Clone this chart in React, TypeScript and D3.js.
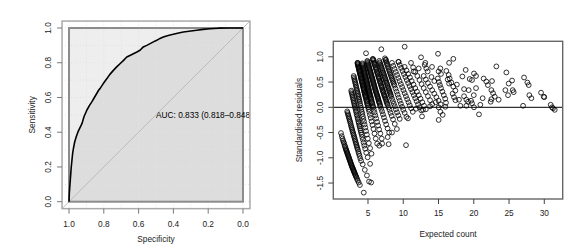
import * as d3 from "d3";

// ROC curve
const specificity = [
  1, 0.998, 0.994, 0.99, 0.987, 0.983, 0.979, 0.973, 0.967, 0.958, 0.948, 0.936, 0.925,
  0.914, 0.897, 0.883, 0.868, 0.85, 0.829, 0.822, 0.803, 0.783, 0.765, 0.745, 0.726,
  0.707, 0.688, 0.668, 0.65, 0.63, 0.61, 0.592, 0.573, 0.553, 0.534, 0.515, 0.496,
  0.477, 0.458, 0.43, 0.401, 0.37, 0.343, 0.3, 0.266, 0.23, 0.19, 0.14, 0.09, 0,
];
const sensitivity = [
  0, 0.05, 0.106, 0.16, 0.2, 0.24, 0.279, 0.315, 0.345, 0.375, 0.403, 0.428, 0.451,
  0.489, 0.528, 0.553, 0.576, 0.607, 0.643, 0.651, 0.68, 0.708, 0.733, 0.756, 0.776,
  0.794, 0.812, 0.833, 0.842, 0.852, 0.862, 0.872, 0.891, 0.9, 0.91, 0.92, 0.929,
  0.94, 0.948, 0.957, 0.964, 0.971, 0.977, 0.983, 0.987, 0.992, 0.996, 0.999, 1, 1,
];
const rocTicks = [1.0, 0.8, 0.6, 0.4, 0.2, 0.0];
const rocGrid = [0, 0.1, 0.2, 0.3, 0.4, 0.5, 0.6, 0.7, 0.8, 0.9, 1.0];
const aucLabel = "AUC: 0.833 (0.818\u20130.848)";

// residuals vs expected count, one array per band of observed count
const band0 = [
  [1.17, -0.51], [1.28, -0.57], [1.38, -0.62], [1.47, -0.66], [1.55, -0.69], [1.62, -0.72],
  [1.7, -0.76], [1.76, -0.78], [1.82, -0.81], [1.87, -0.83], [1.92, -0.85], [1.97, -0.87],
  [2.02, -0.89], [2.07, -0.91], [2.12, -0.93], [2.17, -0.95], [2.22, -0.97], [2.27, -0.99],
  [2.32, -1.01], [2.37, -1.03], [2.42, -1.05], [2.47, -1.07], [2.52, -1.09], [2.57, -1.11],
  [2.62, -1.13], [2.67, -1.15], [2.72, -1.17], [2.77, -1.19], [2.82, -1.2], [2.87, -1.22],
  [2.92, -1.24], [2.97, -1.26], [3.02, -1.27], [3.07, -1.29], [3.12, -1.31], [3.18, -1.33],
  [3.24, -1.35], [3.3, -1.37], [3.37, -1.39], [3.45, -1.42], [3.55, -1.45], [3.68, -1.49],
  [3.85, -1.54], [4.4, -1.69],
];
const band1 = [
  [2.05, -0.08], [2.11, -0.11], [2.17, -0.14], [2.23, -0.17], [2.29, -0.2], [2.35, -0.23],
  [2.41, -0.26], [2.47, -0.29], [2.53, -0.32], [2.59, -0.36], [2.65, -0.39], [2.71, -0.42],
  [2.77, -0.45], [2.83, -0.48], [2.89, -0.51], [2.95, -0.54], [3.01, -0.57], [3.07, -0.6],
  [3.13, -0.63], [3.19, -0.66], [3.25, -0.69], [3.31, -0.72], [3.37, -0.75], [3.43, -0.78],
  [3.49, -0.81], [3.56, -0.84], [3.63, -0.88], [3.71, -0.92], [3.8, -0.96], [3.9, -1.01],
  [4.02, -1.06], [4.25, -1.13], [4.55, -1.24], [4.85, -1.35], [5.15, -1.47],
];
const band2 = [
  [2.62, 0.33], [2.67, 0.3], [2.72, 0.27], [2.77, 0.24], [2.82, 0.21], [2.87, 0.18],
  [2.92, 0.15], [2.97, 0.12], [3.02, 0.09], [3.07, 0.06], [3.12, 0.03], [3.17, 0.0],
  [3.22, -0.03], [3.28, -0.07], [3.34, -0.1], [3.4, -0.14], [3.46, -0.17], [3.52, -0.21],
  [3.58, -0.24], [3.64, -0.28], [3.7, -0.31], [3.76, -0.35], [3.82, -0.38], [3.88, -0.42],
  [3.95, -0.46], [4.02, -0.5], [4.1, -0.54], [4.18, -0.59], [4.27, -0.64], [4.37, -0.7],
  [4.48, -0.76], [4.6, -0.82], [4.75, -0.9], [4.95, -0.99], [5.3, -1.12],
];
const band3 = [
  [2.97, 0.62], [3.02, 0.59], [3.07, 0.56], [3.12, 0.53], [3.17, 0.5], [3.22, 0.47],
  [3.27, 0.44], [3.32, 0.41], [3.37, 0.38], [3.42, 0.35], [3.47, 0.32], [3.52, 0.29],
  [3.57, 0.26], [3.62, 0.23], [3.67, 0.2], [3.72, 0.17], [3.77, 0.14], [3.82, 0.11],
  [3.88, 0.07], [3.94, 0.03], [4.0, -0.01], [4.06, -0.05], [4.13, -0.09], [4.2, -0.13],
  [4.27, -0.18], [4.35, -0.23], [4.43, -0.28], [4.52, -0.34], [4.62, -0.4], [4.72, -0.47],
  [4.84, -0.54], [4.97, -0.62], [5.12, -0.71], [5.3, -0.81], [5.5, -0.92],
];
const band4 = [
  [3.5, 0.88], [3.53, 0.86], [3.56, 0.85], [3.59, 0.83], [3.62, 0.81], [3.65, 0.79],
  [3.68, 0.78], [3.71, 0.76], [3.74, 0.74], [3.77, 0.72], [3.8, 0.71], [3.83, 0.69],
  [3.86, 0.67], [3.89, 0.65], [3.92, 0.64], [3.95, 0.62], [3.98, 0.6], [4.01, 0.58],
  [4.04, 0.57], [4.07, 0.55], [4.1, 0.53], [4.13, 0.51], [4.16, 0.5], [4.19, 0.48],
  [4.22, 0.46], [4.25, 0.44], [4.28, 0.43], [4.31, 0.41], [4.34, 0.39], [4.37, 0.37],
  [4.4, 0.36], [4.43, 0.34], [4.46, 0.32], [4.49, 0.3], [4.52, 0.29], [4.55, 0.27],
  [4.58, 0.25], [4.61, 0.23], [4.64, 0.22], [4.67, 0.2], [4.71, 0.18], [4.75, 0.15],
  [4.79, 0.13], [4.83, 0.11], [4.87, 0.08], [4.92, 0.06], [4.97, 0.03], [5.02, 0.0],
  [5.08, -0.04], [5.17, -0.09], [5.27, -0.15], [5.38, -0.21], [5.5, -0.28], [5.63, -0.35],
  [5.77, -0.43], [5.92, -0.52], [6.1, -0.62], [6.3, -0.72],
];
const band5 = [
  [4.2, 0.87], [4.235, 0.85], [4.27, 0.83], [4.305, 0.81], [4.34, 0.79], [4.375, 0.77],
  [4.41, 0.75], [4.445, 0.73], [4.48, 0.71], [4.515, 0.69], [4.55, 0.67], [4.585, 0.65],
  [4.62, 0.63], [4.655, 0.61], [4.69, 0.59], [4.725, 0.57], [4.76, 0.55], [4.795, 0.53],
  [4.83, 0.51], [4.865, 0.49], [4.9, 0.47], [4.935, 0.45], [4.97, 0.43], [5.005, 0.41],
  [5.04, 0.39], [5.075, 0.37], [5.11, 0.35], [5.145, 0.33], [5.18, 0.31], [5.215, 0.29],
  [5.25, 0.27], [5.285, 0.25], [5.32, 0.23], [5.36, 0.21], [5.4, 0.19], [5.44, 0.17],
  [5.48, 0.15], [5.52, 0.12], [5.56, 0.1], [5.6, 0.08], [5.65, 0.05], [5.7, 0.02],
  [5.74, 0.0], [5.83, -0.05], [5.93, -0.1], [6.04, -0.16], [6.16, -0.22], [6.29, -0.29],
  [6.43, -0.36], [6.58, -0.44], [6.75, -0.52], [6.95, -0.62],
];
const band6 = [
  [4.9, 0.92], [4.94, 0.9], [4.98, 0.88], [5.02, 0.86], [5.06, 0.84], [5.1, 0.82],
  [5.14, 0.8], [5.18, 0.78], [5.22, 0.76], [5.26, 0.74], [5.3, 0.72], [5.34, 0.7],
  [5.38, 0.68], [5.42, 0.66], [5.46, 0.64], [5.5, 0.62], [5.54, 0.6], [5.58, 0.58],
  [5.62, 0.56], [5.66, 0.54], [5.7, 0.52], [5.74, 0.5], [5.78, 0.48], [5.82, 0.46],
  [5.86, 0.44], [5.9, 0.42], [5.94, 0.4], [5.98, 0.38], [6.02, 0.36], [6.06, 0.34],
  [6.1, 0.32], [6.15, 0.3], [6.19, 0.28], [6.24, 0.26], [6.28, 0.24], [6.33, 0.22],
  [6.37, 0.2], [6.42, 0.18], [6.46, 0.16], [6.51, 0.13], [6.56, 0.11], [6.61, 0.09],
  [6.66, 0.07], [6.71, 0.04], [6.76, 0.02], [6.87, -0.03], [6.99, -0.08], [7.12, -0.14],
  [7.26, -0.2], [7.41, -0.27], [7.58, -0.34], [7.78, -0.42], [8.0, -0.5],
];
const band7 = [
  [5.7, 0.96], [5.75, 0.94], [5.8, 0.92], [5.85, 0.89], [5.9, 0.87], [5.95, 0.85],
  [6.0, 0.83], [6.05, 0.8], [6.1, 0.78], [6.15, 0.76], [6.2, 0.74], [6.25, 0.71],
  [6.3, 0.69], [6.35, 0.67], [6.4, 0.65], [6.45, 0.62], [6.5, 0.6], [6.55, 0.58],
  [6.6, 0.56], [6.65, 0.53], [6.7, 0.51], [6.75, 0.49], [6.8, 0.47], [6.85, 0.44],
  [6.9, 0.42], [6.95, 0.4], [7.0, 0.38], [7.05, 0.35], [7.1, 0.33], [7.15, 0.31],
  [7.2, 0.29], [7.26, 0.26], [7.31, 0.24], [7.37, 0.22], [7.42, 0.2], [7.48, 0.17],
  [7.54, 0.15], [7.6, 0.12], [7.66, 0.1], [7.72, 0.07], [7.78, 0.05], [7.91, 0.0],
  [8.05, -0.05], [8.2, -0.11], [8.36, -0.17], [8.55, -0.24], [8.8, -0.33], [9.1, -0.43],
];
const band8 = [
  [6.6, 0.92], [6.66, 0.89], [6.72, 0.87], [6.78, 0.84], [6.84, 0.82], [6.9, 0.79],
  [6.96, 0.77], [7.02, 0.74], [7.08, 0.72], [7.14, 0.69], [7.2, 0.67], [7.26, 0.64],
  [7.32, 0.62], [7.38, 0.59], [7.44, 0.57], [7.5, 0.54], [7.56, 0.52], [7.62, 0.49],
  [7.68, 0.47], [7.74, 0.44], [7.8, 0.42], [7.86, 0.39], [7.92, 0.37], [7.98, 0.34],
  [8.04, 0.32], [8.1, 0.29], [8.16, 0.27], [8.22, 0.24], [8.28, 0.22], [8.4, 0.17],
  [8.53, 0.12], [8.66, 0.07], [8.8, 0.02], [8.95, -0.04], [9.12, -0.1], [9.3, -0.16],
  [9.5, -0.23],
];
const band9 = [
  [7.4, 0.97], [7.48, 0.94], [7.55, 0.91], [7.63, 0.88], [7.7, 0.85], [7.78, 0.82],
  [7.85, 0.79], [7.93, 0.76], [8.0, 0.73], [8.08, 0.7], [8.15, 0.67], [8.23, 0.64],
  [8.3, 0.61], [8.38, 0.58], [8.45, 0.55], [8.53, 0.52], [8.6, 0.49], [8.68, 0.46],
  [8.75, 0.43], [8.9, 0.37], [9.05, 0.31], [9.2, 0.25], [9.35, 0.19], [9.5, 0.13],
  [9.66, 0.07], [9.83, 0.01], [10.0, -0.05], [10.2, -0.11], [10.45, -0.19],
];
const band10 = [
  [8.4, 0.88], [8.58, 0.82], [8.76, 0.76], [8.94, 0.7], [9.12, 0.64], [9.3, 0.58],
  [9.48, 0.52], [9.66, 0.46], [9.84, 0.4], [10.02, 0.34], [10.2, 0.28], [10.38, 0.22],
  [10.56, 0.16], [10.74, 0.1], [10.92, 0.04], [11.12, -0.02], [11.35, -0.09],
];
const band11 = [
  [9.3, 0.9], [9.5, 0.84], [9.7, 0.78], [9.9, 0.72], [10.1, 0.66], [10.3, 0.6],
  [10.5, 0.54], [10.7, 0.48], [10.9, 0.42], [11.1, 0.36], [11.3, 0.3], [11.5, 0.24],
  [11.7, 0.18], [11.9, 0.12], [12.1, 0.06], [12.32, 0.0], [12.55, -0.06],
];
const band12 = [
  [10.2, 0.8], [10.45, 0.73], [10.7, 0.66], [10.95, 0.59], [11.2, 0.52], [11.45, 0.45],
  [11.7, 0.38], [11.95, 0.31], [12.2, 0.24], [12.45, 0.17], [12.7, 0.1], [12.95, 0.03],
  [13.2, -0.04],
];
const band13 = [
  [11.1, 0.88], [11.4, 0.79], [11.7, 0.7], [12.0, 0.62], [12.3, 0.54], [12.6, 0.46],
  [12.9, 0.38], [13.2, 0.3], [13.5, 0.22], [13.8, 0.14], [14.1, 0.06],
];
const band14 = [
  [12.9, 0.62], [13.2, 0.55], [13.5, 0.48], [13.8, 0.41], [14.1, 0.34], [14.4, 0.27],
  [14.7, 0.2], [15.0, 0.13], [15.3, 0.06],
];
const scattered = [
  [10.2, 1.2], [6.89, 1.15], [4.72, 1.07], [14.93, 1.06], [17.1, 0.96], [12.52, 0.99],
  [3.55, 0.88], [16.5, 0.88], [14.08, 0.8], [13.13, 0.88], [13.04, 0.84], [13.27, 0.77],
  [13.46, 0.71], [12.19, 0.77], [11.48, 0.71], [15.26, 0.77], [15.02, 0.71], [16.11, 0.72],
  [15.35, 0.66], [16.44, 0.64], [16.58, 0.57], [18.85, 0.74], [18.38, 0.61], [19.42, 0.56],
  [19.75, 0.54], [20.03, 0.67], [20.32, 0.62], [20.32, 0.38], [20.0, 0.24], [19.28, 0.34],
  [18.62, 0.36], [18.62, 0.22], [18.95, 0.15], [19.18, 0.11], [19.61, 0.13], [19.75, 0.08],
  [20.03, 0.0], [18.1, 0.03], [18.95, 0.03], [20.74, -0.14], [20.93, 0.05], [21.26, 0.18],
  [21.4, 0.57], [21.78, 0.51], [22.0, 0.44], [22.59, 0.52], [22.5, 0.34], [22.73, 0.28],
  [22.97, 0.21], [22.5, 0.16], [22.4, 0.11], [23.2, 0.81], [23.53, 0.15], [24.62, 0.69],
  [24.48, 0.34], [24.86, 0.24], [24.95, 0.47], [25.43, 0.53], [25.52, 0.34], [25.66, 0.3],
  [26.99, 0.03], [27.13, 0.59], [27.6, 0.49], [27.79, 0.44], [27.88, 0.24], [28.17, 0.18],
  [29.54, 0.29], [29.92, 0.21], [30.0, 0.2], [30.91, 0.05], [31.1, 0.0], [31.24, -0.02],
  [31.48, -0.05], [15.02, -0.25], [15.59, -0.15], [15.26, -0.09], [15.02, 0.0], [15.97, 0.01],
  [16.06, 0.09], [12.66, -0.18], [10.67, -0.22], [10.39, -0.75], [8.4, -0.5], [7.93, -0.73],
  [7.79, -0.59], [7.0, -0.72], [6.6, -0.76], [5.45, -1.49], [14.9, 0.57], [15.05, 0.5],
  [15.2, 0.44], [15.35, 0.38], [15.55, 0.31], [15.75, 0.24], [15.95, 0.17], [16.3, 0.55],
  [16.5, 0.47], [16.82, 0.49], [17.1, 0.41], [17.39, 0.33], [17.0, 0.27], [17.2, 0.2],
  [17.4, 0.14], [17.6, 0.45], [17.9, 0.15], [14.0, 0.6], [14.4, 0.52], [13.8, 0.02],
  [14.6, 0.1], [12.8, -0.05], [11.8, -0.03], [9.35, 0.9], [7.55, 0.94], [5.66, 0.95],
];
const residualXTicks = [5, 10, 15, 20, 25, 30];
const residualYTicks = [-1.5, -1.0, -0.5, 0.0, 0.5, 1.0];

const residualPoints = [
  ...band0, ...band1, ...band2, ...band3, ...band4, ...band5, ...band6, ...band7,
  ...band8, ...band9, ...band10, ...band11, ...band12, ...band13, ...band14, ...scattered,
];

const font = "'Liberation Sans', Arial, Helvetica, sans-serif";
const fs = 8.3;
const txt = "#222";
const fmt = (v: number) => d3.format(".1f")(v).replace("\u2212", "-");

function RocPanel() {
  const x = d3.scaleLinear().domain([1, 0]).range([69, 243]);
  const y = d3.scaleLinear().domain([0, 1]).range([201.7, 28]);
  const x0 = x(1.04), x1 = x(-0.04), y0 = y(-0.04), y1 = y(1.04);
  const roc = specificity.map((s, i) => [s, sensitivity[i]] as [number, number]);

  const line = d3.line<[number, number]>().x((d) => x(d[0])).y((d) => y(d[1]));
  const aucArea = d3
    .area<[number, number]>()
    .x((d) => x(d[0]))
    .y0(y(0))
    .y1((d) => y(d[1]));

  return (
    <g>
      <defs>
        <clipPath id="rocClip">
          <rect x={x0} y={y1} width={x1 - x0} height={y0 - y1} />
        </clipPath>
      </defs>
      <g clipPath="url(#rocClip)">
        <rect x={x(1)} y={y(1)} width={x(0) - x(1)} height={y(0) - y(1)} fill="#EEEEEE" />
        <path d={aucArea(roc) ?? ""} fill="#DDDDDD" />
        {rocGrid.map((g) => (
          <g key={g}>
            <line x1={x(g)} x2={x(g)} y1={y0} y2={y1} stroke="#E2E2E2" strokeDasharray="1 2" />
            <line x1={x0} x2={x1} y1={y(g)} y2={y(g)} stroke="#E2E2E2" strokeDasharray="1 2" />
          </g>
        ))}
        <line x1={x(1.04)} y1={y(-0.04)} x2={x(-0.04)} y2={y(1.04)} stroke="#BBBBBB" strokeWidth={1} />
        <rect x={x(1)} y={y(1)} width={x(0) - x(1)} height={y(0) - y(1)} fill="none" stroke="#8C8C8C" strokeWidth={2} />
        <path d={line(roc) ?? ""} fill="none" stroke="#000" strokeWidth={1.6} strokeLinejoin="round" />
        <text x={x(0.5)} y={y(0.5)} dy="0.33em" fontFamily={font} fontSize={fs} fill="#000">
          {aucLabel}
        </text>
      </g>
      <rect x={x0} y={y1} width={x1 - x0} height={y0 - y1} fill="none" stroke="#AAAAAA" strokeWidth={1.5} />
      {rocTicks.map((t) => (
        <g key={"x" + t}>
          <line x1={x(t)} x2={x(t)} y1={y0} y2={y0 + 5} stroke="#777" />
          <text x={x(t)} y={y0 + 18} textAnchor="middle" fontFamily={font} fontSize={fs} fill={txt}>
            {fmt(t)}
          </text>
          <line x1={x0} x2={x0 - 5} y1={y(t)} y2={y(t)} stroke="#777" />
          <text
            transform={`translate(${x0 - 11},${y(t)}) rotate(-90)`}
            textAnchor="middle"
            fontFamily={font}
            fontSize={fs}
            fill={txt}
          >
            {fmt(t)}
          </text>
        </g>
      ))}
      <text x={(x0 + x1) / 2} y={242} textAnchor="middle" fontFamily={font} fontSize={fs} fill={txt}>
        Specificity
      </text>
      <text
        transform={`translate(35,${(y0 + y1) / 2}) rotate(-90)`}
        textAnchor="middle"
        fontFamily={font}
        fontSize={fs}
        fill={txt}
      >
        Sensitivity
      </text>
    </g>
  );
}

function ResidualPanel() {
  const x = d3.scaleLinear().domain([0.08, 32.61]).range([333.3, 562.7]);
  const y = d3.scaleLinear().domain([-1.816, 1.307]).range([199, 41.3]);
  const [xa, xb] = x.range();
  const [ya, yb] = y.range();

  return (
    <g>
      <line x1={xa} x2={xb} y1={y(0)} y2={y(0)} stroke="#000" strokeWidth={1} />
      {residualPoints.map((p, i) => (
        <circle key={i} cx={x(p[0])} cy={y(p[1])} r={2.4} fill="none" stroke="#000" strokeWidth={0.8} />
      ))}
      <rect x={xa} y={yb} width={xb - xa} height={ya - yb} fill="none" stroke="#666" strokeWidth={1.4} />
      {residualXTicks.map((t) => (
        <g key={"x" + t}>
          <line x1={x(t)} x2={x(t)} y1={ya} y2={ya + 5} stroke="#444" />
          <text x={x(t)} y={ya + 17} textAnchor="middle" fontFamily={font} fontSize={fs} fill={txt}>
            {t}
          </text>
        </g>
      ))}
      {residualYTicks.map((t) => (
        <g key={"y" + t}>
          <line x1={xa} x2={xa - 5} y1={y(t)} y2={y(t)} stroke="#444" />
          <text
            transform={`translate(${xa - 10},${y(t)}) rotate(-90)`}
            textAnchor="middle"
            fontFamily={font}
            fontSize={fs}
            fill={txt}
          >
            {fmt(t)}
          </text>
        </g>
      ))}
      <text x={(xa + xb) / 2} y={237} textAnchor="middle" fontFamily={font} fontSize={fs} fill={txt}>
        Expected count
      </text>
      <text
        transform={`translate(302,${(ya + yb) / 2}) rotate(-90)`}
        textAnchor="middle"
        fontFamily={font}
        fontSize={fs}
        fill={txt}
      >
        Standardised residuals
      </text>
    </g>
  );
}

export default function App() {
  return (
    <svg
      width={584}
      height={250}
      style={{ position: "absolute", left: 0, top: 0, background: "#fff" }}
    >
      <rect width={584} height={250} fill="#fff" />
      <RocPanel />
      <ResidualPanel />
    </svg>
  );
}
